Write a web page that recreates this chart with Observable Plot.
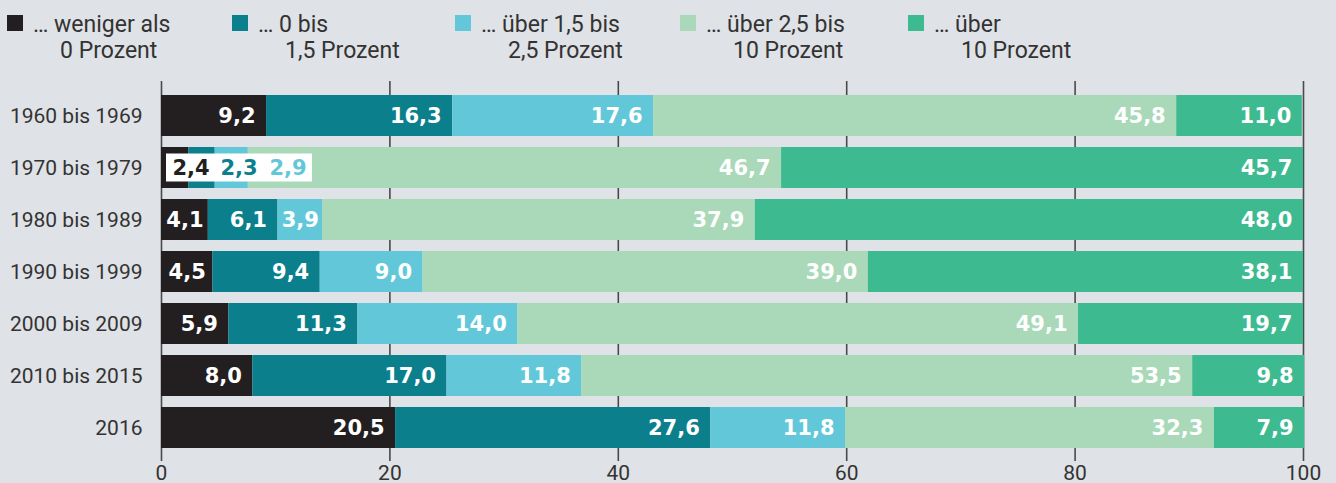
<!DOCTYPE html>
<html>
<head>
<meta charset="utf-8">
<script src="https://cdn.jsdelivr.net/npm/d3@7"></script>
<script src="https://cdn.jsdelivr.net/npm/@observablehq/plot@0.6"></script>
<style>
  html, body { margin: 0; padding: 0; background: #dfe2e6; }
  #chart svg { display: block; }
</style>
</head>
<body>
<div id="chart"></div>
<script>
// ---- data ----
const categories = ["1960 bis 1969", "1970 bis 1979", "1980 bis 1989", "1990 bis 1999", "2000 bis 2009", "2010 bis 2015", "2016"];
const seriesNames = ["weniger als 0", "0 bis 1,5", "über 1,5 bis 2,5", "über 2,5 bis 10", "über 10"];
const legendLine1 = ["… weniger als", "… 0 bis", "… über 1,5 bis", "… über 2,5 bis", "… über"];
const legendLine2 = ["0 Prozent", "1,5 Prozent", "2,5 Prozent", "10 Prozent", "10 Prozent"];
const seriesColors = ["#231f20", "#0b7f8c", "#62c8d9", "#a9d9b8", "#3dba8f"];

const lessThan0   = [9.2, 2.4, 4.1, 4.5, 5.9, 8.0, 20.5];
const zeroTo15    = [16.3, 2.3, 6.1, 9.4, 11.3, 17.0, 27.6];
const from15to25  = [17.6, 2.9, 3.9, 9.0, 14.0, 11.8, 11.8];
const from25to10  = [45.8, 46.7, 37.9, 39.0, 49.1, 53.5, 32.3];
const over10      = [11.0, 45.7, 48.0, 38.1, 19.7, 9.8, 7.9];
const xTicks = [0, 20, 40, 60, 80, 100];

const insetRow = "1970 bis 1979";  // row whose small values sit in a white box

// ---- build table ----
const seriesValues = [lessThan0, zeroTo15, from15to25, from25to10, over10];
const rows = [];
categories.forEach((cat, i) => {
  let acc = 0;
  seriesValues.forEach((vals, s) => {
    const v = vals[i];
    rows.push({period: cat, series: seriesNames[s], idx: s, value: v, x1: acc, x2: acc + v});
    acc += v;
  });
});
const fmt = v => v.toFixed(1).replace(".", ",");
const inBox = d => d.period === insetRow && d.idx < 3;
const normalLabels = rows.filter(d => !inBox(d) && d.value >= 5.2);
const centerLabels = rows.filter(d => !inBox(d) && d.value < 5.2);
const boxLabels = rows.filter(inBox);
const boxOffsets = [11, 59, 108];

// ---- legend ----
const legend = d3.create("svg").attr("width", 1336).attr("height", 70).style("display", "block");
const legendX = [7, 232, 455, 680, 908];
seriesNames.forEach((s, i) => {
  const g = legend.append("g").attr("transform", `translate(${legendX[i]},0)`);
  g.append("rect").attr("x", 0).attr("y", 15).attr("width", 16).attr("height", 16).attr("fill", seriesColors[i]);
  g.append("text").attr("x", 26).attr("y", 32).attr("font-family", "Roboto").attr("font-size", 23).attr("fill", "#333").text(legendLine1[i]);
  g.append("text").attr("x", 53).attr("y", 58).attr("font-family", "Roboto").attr("font-size", 23).attr("fill", "#333").text(legendLine2[i]);
});
document.getElementById("chart").append(legend.node());

// ---- chart ----
const chart = Plot.plot({
  width: 1336,
  height: 413,
  marginLeft: 161,
  marginRight: 33,
  marginTop: 11,
  marginBottom: 22,
  style: {background: "transparent", fontFamily: "Roboto", fontSize: "21px", color: "#333", overflow: "visible"},
  x: {domain: [0, 100], ticks: xTicks, label: null},
  y: {domain: categories, paddingInner: 0.22, paddingOuter: 0.229, align: 0.5, label: null},
  color: {domain: seriesNames, range: seriesColors},
  marks: [
    Plot.ruleX(xTicks, {stroke: "#4a4a4a", strokeWidth: 1.6}),
    Plot.barX(rows, {x1: "x1", x2: "x2", y: "period", fill: "series"}),
    Plot.rect(boxLabels.slice(0, 1), {x1: d => d.x1, x2: d => d.x1, y: "period", fill: "white",
      insetLeft: 5, insetRight: -151, insetTop: 6.5, insetBottom: 6.5}),
    Plot.text(normalLabels, {x: "x2", y: "period", text: d => fmt(d.value), textAnchor: "end", dx: -11,
      fill: "white", fontFamily: "DejaVu Sans", fontWeight: "bold", fontSize: 21}),
    Plot.text(centerLabels, {x: d => (d.x1 + d.x2) / 2, y: "period", text: d => fmt(d.value), textAnchor: "middle",
      fill: "white", fontFamily: "DejaVu Sans", fontWeight: "bold", fontSize: 21}),
    ...boxLabels.map((d, k) => Plot.text([d], {x: e => boxLabels[0].x1, y: "period", text: e => fmt(e.value), textAnchor: "start",
      dx: boxOffsets[k], fill: seriesColors[d.idx], fontFamily: "DejaVu Sans", fontWeight: "bold", fontSize: 21})),
    Plot.axisX(xTicks, {tickSize: 0, tickPadding: 4, fontSize: 21, tickFormat: d => String(d), fill: "#333"}),
    Plot.axisY({tickSize: 0, tickPadding: 19, fontSize: 21, fill: "#333"})
  ]
});
document.getElementById("chart").append(chart);
</script>
</body>
</html>
